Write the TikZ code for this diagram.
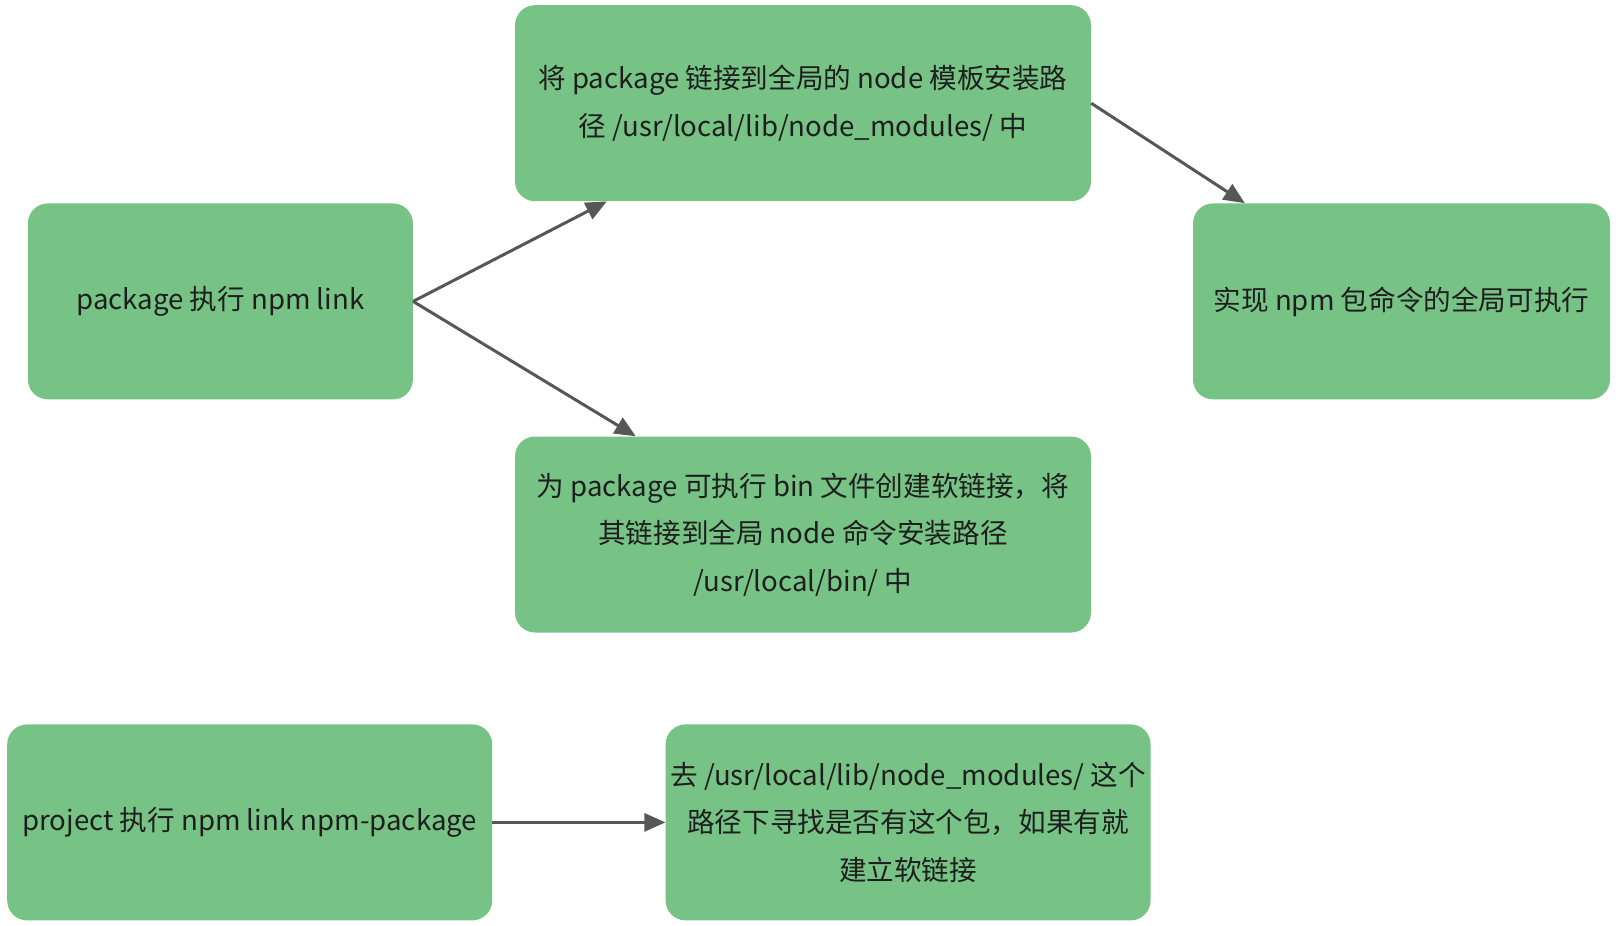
\documentclass[tikz,border=0pt]{standalone}
\usepackage{fontspec}
\setmainfont{Noto Sans CJK SC}
\usetikzlibrary{arrows.meta}
\definecolor{boxgreen}{HTML}{77C386}
\definecolor{arrowgray}{HTML}{575757}
\definecolor{txt}{HTML}{1E1E1E}
\begin{document}
\begin{tikzpicture}[x=1pt,y=-1pt,
  box/.style={fill=boxgreen, rounded corners=20pt, text=txt, align=center,
    inner sep=0pt, minimum height=196pt,
    font=\fontsize{27.6}{47.5}\selectfont},
  conn/.style={draw=arrowgray, line width=3pt,
    -{Triangle[length=21pt,width=18pt]}}]
\useasboundingbox (0,0) rectangle (1618,926);
\node[box, minimum width=385pt] (A) at (220.4,301.4) {package 执行 npm link};
\node[box, minimum width=576pt] (B) at (803,103.2) {将 package 链接到全局的 node 模板安装路\\径 /usr/local/lib/node\_modules/ 中};
\node[box, minimum width=417pt] (C) at (1401.5,301.4) {实现 npm 包命令的全局可执行};
\node[box, minimum width=576pt] (D) at (803,534.5) {为 package 可执行 bin 文件创建软链接，将\\其链接到全局 node 命令安装路径\\/usr/local/bin/ 中};
\node[box, minimum width=485pt] (E) at (249.7,822.4) {project 执行 npm link npm-package};
\node[box, minimum width=485pt] (F) at (908.1,822.4) {去 /usr/local/lib/node\_modules/ 这个\\路径下寻找是否有这个包，如果有就\\建立软链接};
\draw[conn] (A.east) -- ([xshift=92pt]B.south west);
\draw[conn] (A.east) -- ([xshift=121pt]D.north west);
\draw[conn] (B.east) -- ([xshift=52pt]C.north west);
\draw[conn] (E.east) -- (F.west);
\end{tikzpicture}
\end{document}
